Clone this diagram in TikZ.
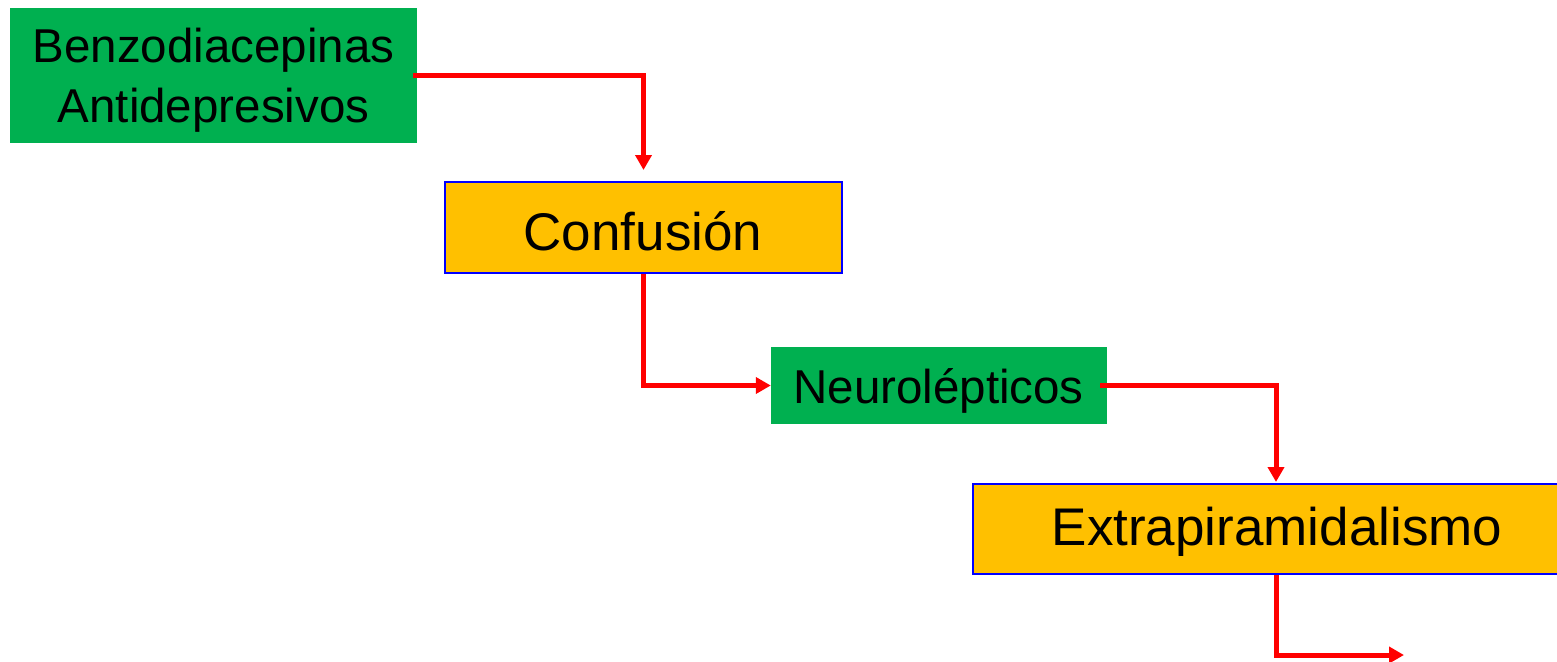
\documentclass[tikz,border=0pt]{standalone}
\usepackage{fontspec}
\setmainfont{Liberation Sans}
\usetikzlibrary{arrows.meta,calc}
\definecolor{boxgreen}{HTML}{00B050}
\definecolor{boxorange}{HTML}{FFC000}
\definecolor{arrred}{HTML}{FF0000}
\tikzset{
  greenbox/.style={fill=boxgreen, draw=none, inner sep=0pt},
  orangebox/.style={fill=boxorange, draw=blue, line width=2pt, inner sep=0pt},
  arr/.style={draw=arrred, line width=5pt, -{Triangle[length=15pt,width=16pt]}},
  gtext/.style={anchor=base, inner sep=0pt, font=\fontsize{47.5}{59}\selectfont},
  otext/.style={anchor=base, inner sep=0pt, font=\fontsize{53}{60}\selectfont}
}
\begin{document}
\begin{tikzpicture}[x=1pt,y=-1pt]
\useasboundingbox[fill=white] (0,0) rectangle (1557,661);
% boxes
\node[greenbox, minimum width=407pt, minimum height=135pt] (b1) at (213.5,75.5) {};
\node[orangebox, minimum width=397pt, minimum height=91pt] (c1) at (643.5,227.5) {};
\node[greenbox, minimum width=336pt, minimum height=77pt] (n1) at (939,385.5) {};
\node[orangebox, minimum width=588pt, minimum height=90pt] (e1) at (1267,529) {};
% texts
\node[gtext] (t1a) at (213.5,63) {Benzodiacepinas};
\node[gtext] (t1b) at (213.5,122) {Antidepresivos};
\node[otext] (t2) at (643,250) {Confusión};
\node[gtext] (t3) at (938.5,403) {Neurolépticos};
\node[otext] (t4) at (1277,545) {Extrapiramidalismo};
% end coordinate
\coordinate (endpt) at (1404,655);
% connectors
\draw[arr] ([xshift=-4pt]b1.east) -| ([yshift=11pt]c1.north);
\draw[arr] (c1.south) |- (n1.west);
\draw[arr] ([xshift=-7pt]n1.east) -| ([xshift=9pt,yshift=1pt]e1.north);
\draw[arr] ([xshift=9pt]e1.south) |- (endpt);
\end{tikzpicture}
\end{document}
